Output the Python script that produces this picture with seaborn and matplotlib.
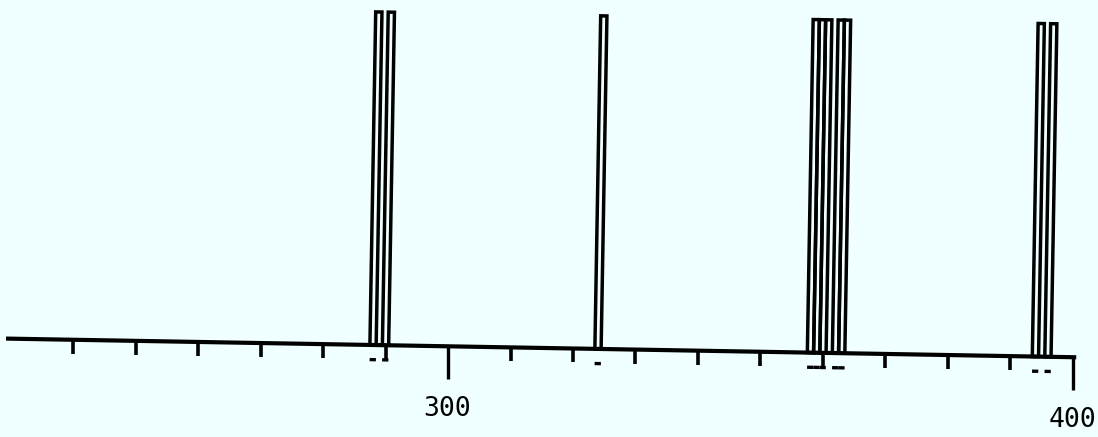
import matplotlib
matplotlib.use("Agg")
import matplotlib.pyplot as plt
from matplotlib.artist import Artist
from matplotlib.transforms import Affine2D
import seaborn as sns

# Peak positions (m/z) and relative intensities (all peaks run off-scale)
mz = [288, 290, 324, 358, 359, 360, 362, 363, 394, 396]
intensity = [100, 100, 100, 100, 100, 100, 100, 100, 100, 100]

# Axis ticks
major_ticks = [300, 400]
major_labels = ["300", "400"]
minor_ticks = list(range(240, 400, 10))

BG = "#f0ffff"

sns.set_theme(style="white")
plt.rcParams["font.family"] = ["DejaVu Sans Mono", "DejaVu Sans"]

fig = plt.figure(figsize=(10.98, 4.37), dpi=100, facecolor=BG)
ax = fig.add_axes([0, 0, 1, 1], facecolor=BG)

sns.barplot(x=mz, y=intensity, native_scale=True, width=1.0, fill=False,
            color="black", linewidth=2.5, errorbar=None, ax=ax)

# Short marker dashes under each peak
ax.hlines([-4.4] * len(mz), [m - 0.5 for m in mz], [m + 0.5 for m in mz],
          color="black", linewidth=2.4)

ax.set_xlim(228.32, 404.0)
ax.set_ylim(-26.7, 104.5)

for side in ("top", "right", "left"):
    ax.spines[side].set_visible(False)
ax.spines["bottom"].set_position(("data", 0))
ax.spines["bottom"].set_bounds(229.6, 400.2)
ax.spines["bottom"].set_linewidth(3.0)
ax.spines["bottom"].set_color("black")

ax.set_xticks(major_ticks)
ax.set_xticklabels(major_labels)
ax.set_xticks(minor_ticks, minor=True)
ax.tick_params(axis="x", which="major", direction="out", length=24, width=2.4,
               color="black", pad=12, labelsize=19, labelcolor="black",
               bottom=True)
ax.tick_params(axis="x", which="minor", direction="out", length=10, width=2.6,
               color="black", bottom=True)
ax.set_yticks([])
ax.set_xlabel("")
ax.set_ylabel("")

# The chart sheet sits tilted by about one degree clockwise
tilt = Affine2D().rotate_deg_around(549, 89, -1.0)
artists = list(ax.patches) + list(ax.collections) + [ax.spines["bottom"]]
for tick in ax.xaxis.get_major_ticks() + ax.xaxis.get_minor_ticks():
    artists += [tick.tick1line, tick.label1]
for art in artists:
    art.set_transform(Artist.get_transform(art) + tilt)

fig.savefig("out.png", dpi=100, facecolor=BG)
